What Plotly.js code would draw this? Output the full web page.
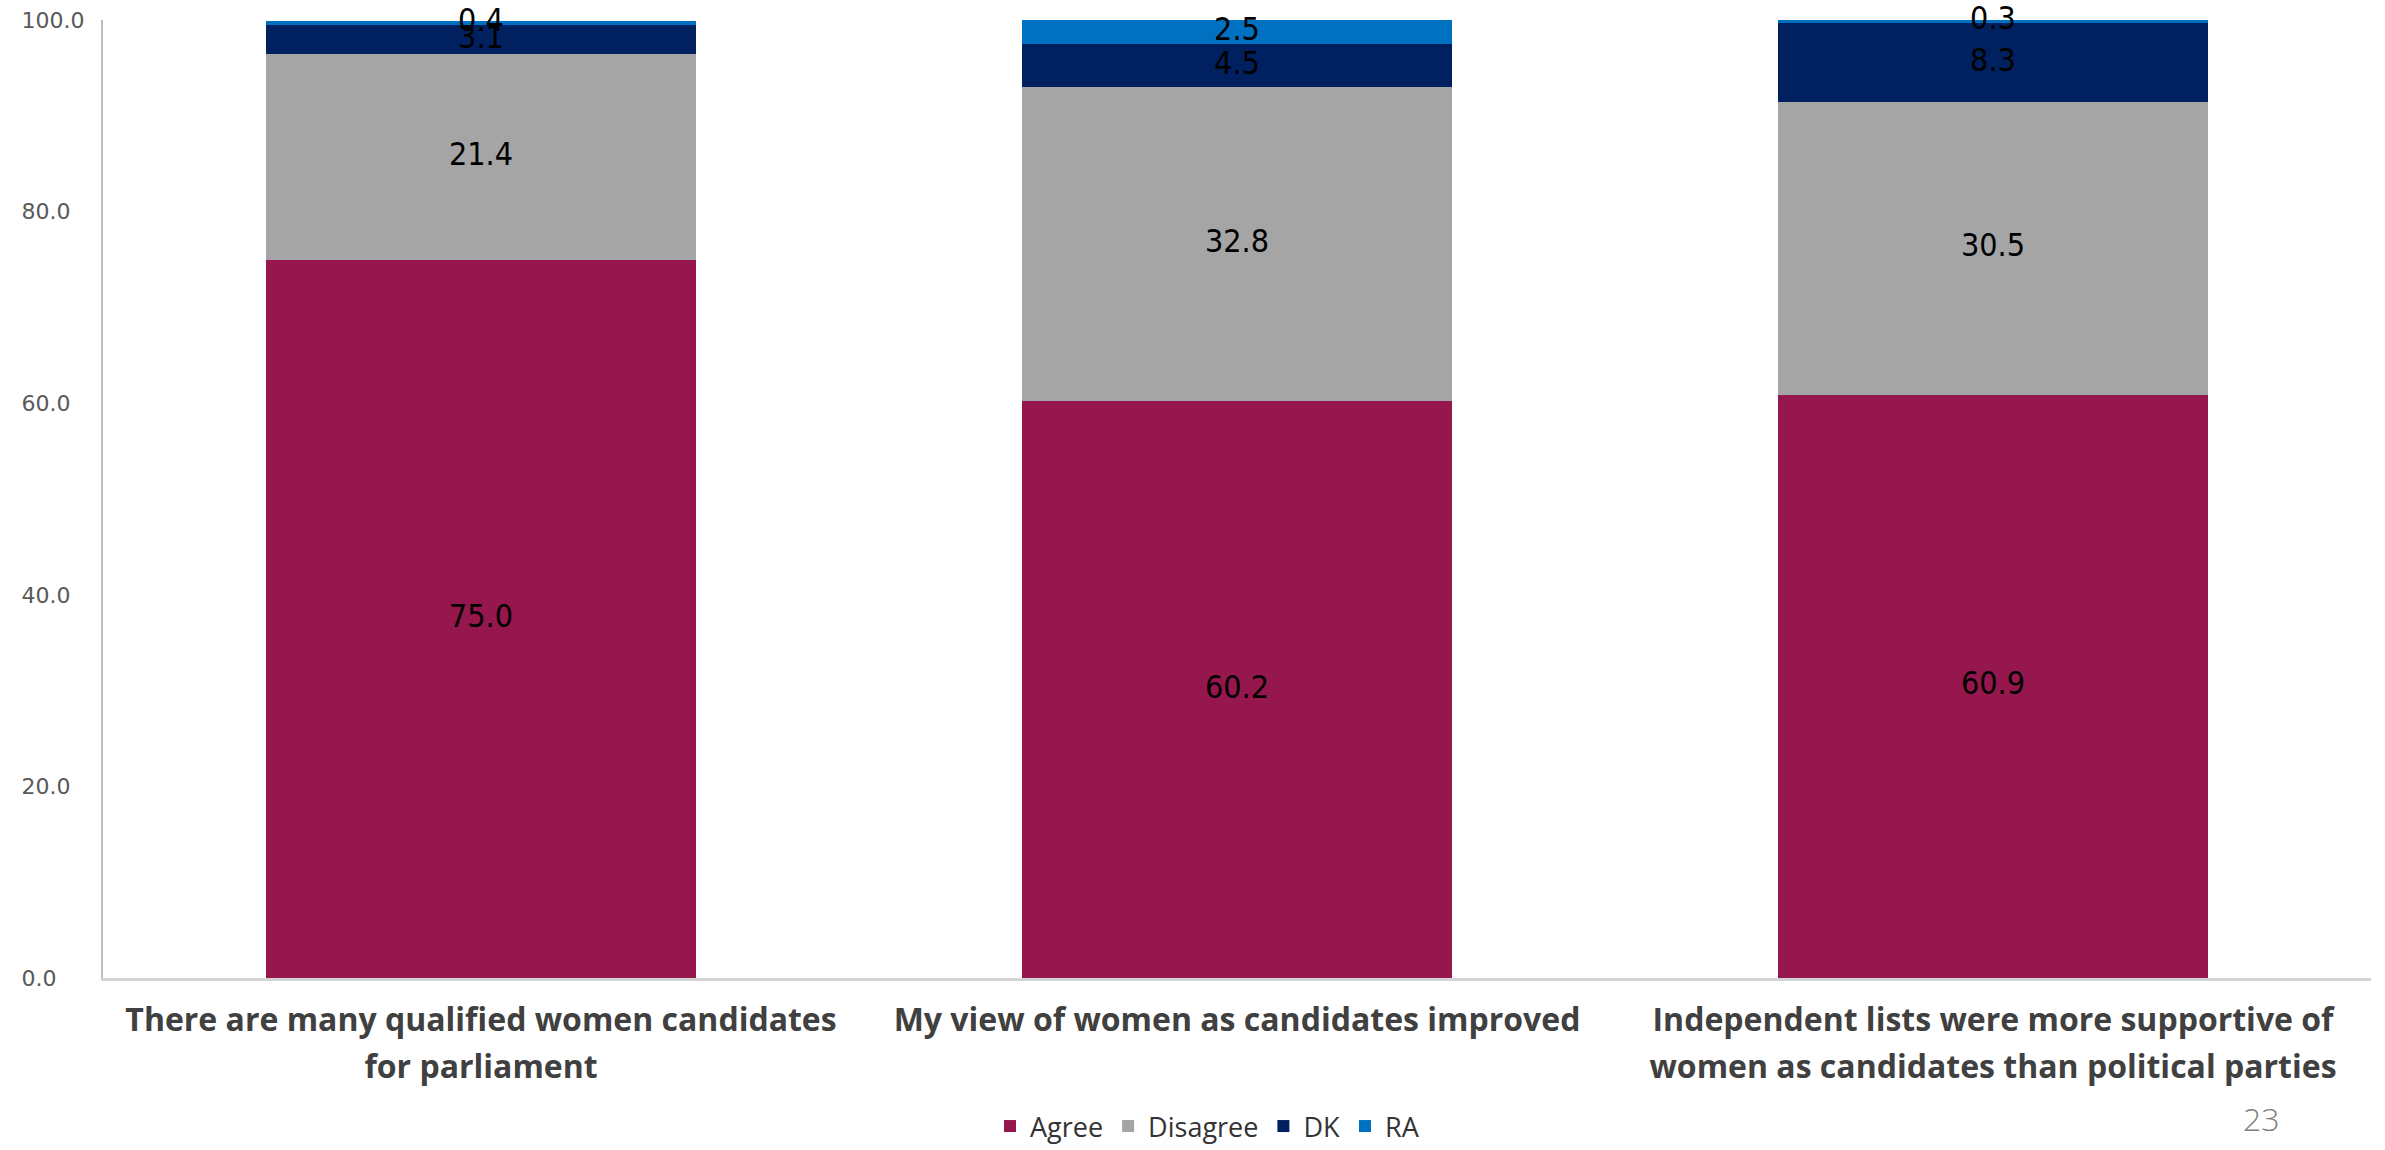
<!DOCTYPE html>
<html>
<head>
<meta charset="utf-8">
<script src="https://cdn.plot.ly/plotly-3.0.1.min.js"></script>
<style>html,body{margin:0;padding:0;background:#fff;}#chart{width:2385px;height:1150px;}</style>
</head>
<body>
<div id="chart"></div>
<script>
const categories = [
  "There are many qualified women candidates<br>for parliament",
  "My view of women as candidates improved",
  "Independent lists were more supportive of<br>women as candidates than political parties"
];
const agree    = [75.0, 60.2, 60.9];
const disagree = [21.4, 32.8, 30.5];
const dk       = [3.1, 4.5, 8.3];
const ra       = [0.4, 2.5, 0.3];
const seriesNames = ["Agree", "Disagree", "DK", "RA"];
const seriesColors = ["#95174D", "#A5A5A5", "#002060", "#0070C0"];
const yTickVals = [0, 20, 40, 60, 80, 100];
const yTickText = ["0.0\u2007\u2007", "20.0\u2007", "40.0\u2007", "60.0\u2007", "80.0\u2007", "100.0"];
const pageNumber = "23";

const series = [agree, disagree, dk, ra];
const traces = [];
series.forEach((vals, i) => {
  traces.push({
    type: "bar",
    x: categories,
    y: vals,
    name: seriesNames[i],
    marker: {color: seriesColors[i], line: {width: 0}},
    width: 0.57,
    hoverinfo: "y+name"
  });
});
// data labels centred in each segment
const base = categories.map(() => 0);
series.forEach((vals, i) => {
  const mids = vals.map((v, j) => base[j] + v / 2);
  vals.forEach((v, j) => { base[j] += v; });
  traces.push({
    type: "scatter",
    mode: "text",
    x: categories,
    y: mids,
    text: vals.map(v => v.toFixed(1)),
    textposition: "middle center",
    textfont: {family: "DejaVu Sans Condensed, DejaVu Sans, sans-serif", size: 32, color: "#000000"},
    showlegend: false,
    hoverinfo: "skip",
    cliponaxis: false
  });
});

const layout = {
  width: 2385,
  height: 1150,
  margin: {l: 103, r: 14, t: 20, b: 172, autoexpand: false},
  paper_bgcolor: "#ffffff",
  plot_bgcolor: "#ffffff",
  barmode: "stack",
  showlegend: true,
  legend: {
    orientation: "h",
    x: 0.487, xanchor: "center",
    y: -0.155, yanchor: "middle",
    font: {family: "Open Sans, sans-serif", size: 27, color: "#333333"},
    traceorder: "normal"
  },
  xaxis: {
    type: "category",
    automargin: false,
    showgrid: false,
    zeroline: false,
    showline: true,
    linecolor: "#d4d4d4",
    linewidth: 3,
    ticks: "",
    tickmode: "array",
    tickvals: categories,
    ticktext: categories.map(c => '<span style="font-size:32px">' + c.split("<br>").join('</span><br><span style="font-size:32px">') + '</span>'),
    tickfont: {family: "Open Sans, sans-serif", size: 36, color: "#404040", weight: 700},
    ticklabelstandoff: 7,
    fixedrange: true
  },
  yaxis: {
    automargin: false,
    range: [0, 100],
    tickvals: yTickVals,
    ticktext: yTickText,
    showgrid: false,
    zeroline: false,
    showline: true,
    linecolor: "#bfbfbf",
    linewidth: 2,
    ticks: "",
    tickfont: {family: "DejaVu Sans, sans-serif", size: 22, color: "#595959"},
    ticklabelstandoff: 12,
    fixedrange: true
  },
  annotations: [{
    xref: "paper", yref: "paper",
    x: 0.9515, y: -0.147,
    xanchor: "center", yanchor: "middle",
    text: pageNumber,
    showarrow: false,
    font: {family: "Open Sans, sans-serif", size: 32, color: "#7f7f7f", weight: 300}
  }]
};

Plotly.newPlot("chart", traces, layout, {displayModeBar: false, staticPlot: true});
</script>
</body>
</html>
